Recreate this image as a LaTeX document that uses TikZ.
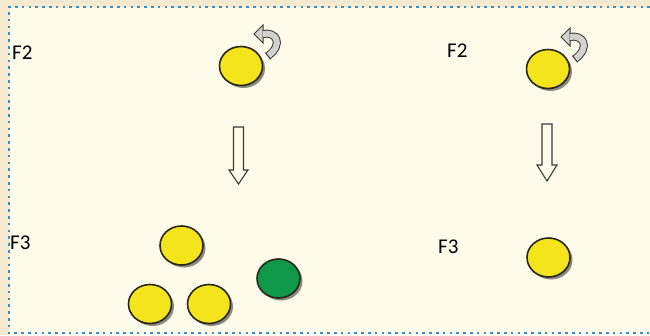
\documentclass[tikz,border=0pt]{standalone}
\usepackage{fontspec}
\setmainfont{Carlito}
\usetikzlibrary{shapes.geometric,shadows}
\definecolor{bgcream}{HTML}{FEFBEA}
\definecolor{stripbg}{HTML}{F4EAD0}
\definecolor{framedot}{HTML}{3A8FC8}
\definecolor{ballyellow}{HTML}{F3E41C}
\definecolor{ballgreen}{HTML}{0F9848}
\definecolor{balledge}{HTML}{2A2618}
\definecolor{arrowgray}{HTML}{D2D2CE}
\definecolor{arrowedge}{HTML}{3A3A3A}
\tikzset{
  ball/.style={ellipse, draw=balledge, line width=1.6pt, minimum width=43pt, minimum height=39pt, inner sep=0pt,
    drop shadow={shadow xshift=2.5pt, shadow yshift=-2.5pt, fill=black, opacity=0.45}},
  yball/.style={ball, fill=ballyellow},
  gball/.style={ball, fill=ballgreen},
  lbl/.style={anchor=west, inner sep=0pt, font=\fontsize{21}{23}\selectfont, text=black},
  downarrow/.style={draw=arrowedge, line width=1.1pt, fill=bgcream, line join=miter},
  rotarrow/.pic={
    \filldraw[fill=arrowgray, draw=arrowedge, line width=1pt, line join=miter] (13,-32) -- (22,-41) -- (22,-23) -- cycle;
    \draw[line width=1pt, arrowedge, double=arrowgray, double distance=6pt] (21.6,-32) .. controls (35,-35) and (43,-22) .. (27,-10);
    \draw[line width=1pt, arrowedge] (29.5,-6.7) -- (24.5,-13.3);
  }
}
\begin{document}
\begin{tikzpicture}[x=1pt,y=-1pt]
\useasboundingbox (0,0) rectangle (650,335);
\fill[stripbg] (0,0) rectangle (650,335);
\fill[bgcream] (9,7) rectangle (650,335);
% dotted frame
\draw[framedot, line width=2.6pt, dash pattern=on 2.6pt off 4.2pt] (650,7) -- (9,7) -- (9,333) -- (650,333);

% labels
\node[lbl] (f2a) at (12,53) {F2};
\node[lbl] (f3a) at (10,243) {F3};
\node[lbl] (f2b) at (447,51) {F2};
\node[lbl] (f3b) at (438,247) {F3};

% left group
\node[yball] (ta) at (241,66) {};
\pic at (ta.center) {rotarrow};
\path[downarrow] (233.5,127) -- (243.5,127) -- (243.5,170) -- (248,170) -- (238.5,184) -- (229,170) -- (233.5,170) -- cycle;
\node[yball] (b1) at (181.5,245.5) {};
\node[yball] (b2) at (150,304) {};
\node[yball] (b3) at (209,304) {};
\node[gball] (g1) at (278.5,278.5) {};

% right group
\node[yball] (tb) at (548,69) {};
\pic at (tb.center) {rotarrow};
\path[downarrow] (542,124) -- (552,124) -- (552,165) -- (557,165) -- (547,181) -- (537,165) -- (542,165) -- cycle;
\node[yball] (b4) at (548.5,257.5) {};
\end{tikzpicture}
\end{document}
